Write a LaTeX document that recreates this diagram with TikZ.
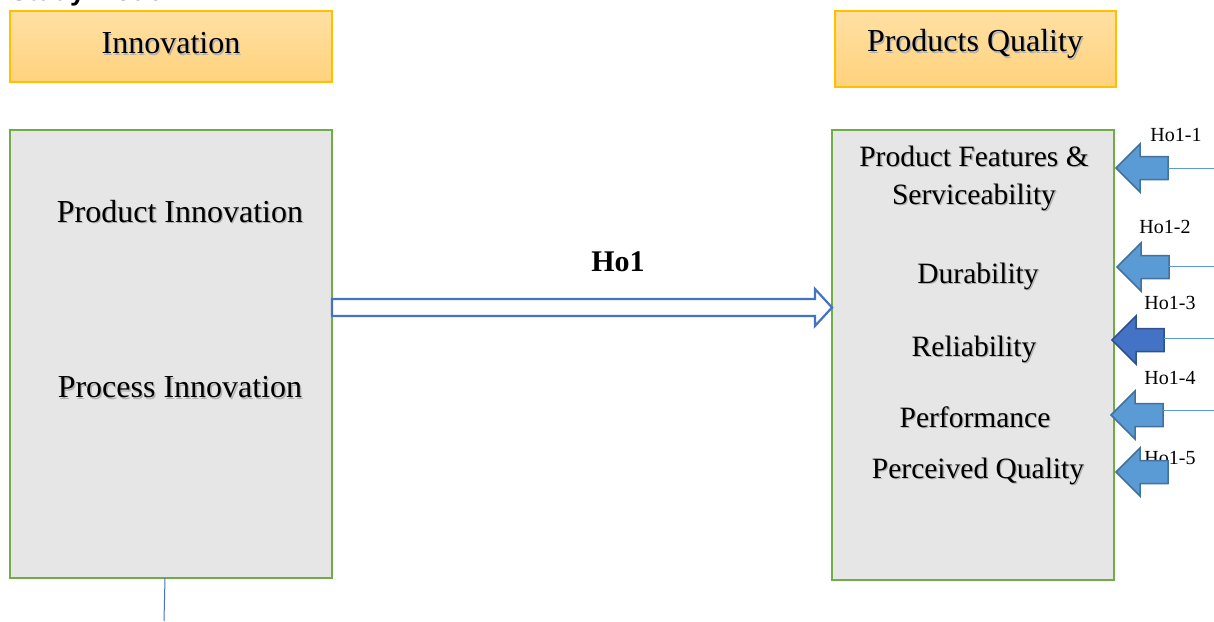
\documentclass[tikz,border=0pt]{standalone}
\usepackage{fontspec}
\setmainfont{Liberation Serif}
\newfontfamily\headsans{Liberation Sans}
\usetikzlibrary{calc}
\definecolor{hdtop}{HTML}{FFE0A3}
\definecolor{hdbot}{HTML}{FFD27D}
\definecolor{hdline}{HTML}{FFC000}
\definecolor{panelfill}{HTML}{E7E6E6}
\definecolor{panelline}{HTML}{70AD47}
\definecolor{linkblue}{HTML}{4472C4}
\definecolor{arrfill}{HTML}{5B9BD5}
\definecolor{arrline}{HTML}{41719C}
\definecolor{arrdark}{HTML}{4472C4}
\definecolor{arrdarkline}{HTML}{2F528F}
% text with a soft drop shadow
\newcommand{\shd}[1]{\leavevmode\rlap{\kern1.3pt\raisebox{-1.3pt}{\textcolor{black!30}{#1}}}#1}
\tikzset{
  headbox/.style={draw=hdline, line width=1.2pt, top color=hdtop, bottom color=hdbot,
    anchor=north west, inner sep=0pt, outer sep=0pt},
  headtext/.style={font=\fontsize{32}{36}\selectfont, inner sep=0pt},
  panel/.style={draw=panelline, line width=2.2pt, fill=panelfill,
    anchor=north west, inner sep=0pt, outer sep=0pt},
  item/.style={font=\fontsize{29.5}{33}\selectfont, inner sep=0pt},
  itemL/.style={font=\fontsize{32}{36}\selectfont, inner sep=0pt},
  hlabel/.style={font=\fontsize{20}{23}\selectfont, inner sep=0pt},
  bigarrow/.style={draw=linkblue, line width=2.2pt, fill=white, line join=miter},
  blockarr/.style={draw=arrline, line width=1.5pt, fill=arrfill, line join=miter},
  blockarrdark/.style={draw=arrdarkline, line width=1.5pt, fill=arrdark, line join=miter},
  tail/.style={draw=arrfill, line width=1pt}
}
% block arrow pointing left: #1 style, #2 tip coordinate, #3 name of shaft end
\newcommand{\leftblock}[3]{%
  \path[#1] (#2) -- ++(24,-24) -- ++(0,12.5) -- ++(28,0) -- ++(0,23) -- ++(-28,0) -- ++(0,12.5) -- cycle;
  \coordinate (#3) at ($(#2)+(52,0)$);}
\begin{document}
\begin{tikzpicture}[x=1pt,y=-1pt]
\useasboundingbox (0,0) rectangle (1214,621);
\begin{scope}
\clip (0,0) rectangle (1214,621);
\node[anchor=base west, inner sep=0pt, font=\headsans\bfseries\fontsize{27}{30}\selectfont] (title) at (10,1) {Study Model};
\end{scope}

% column headings
\node[headbox, minimum width=322, minimum height=71] (hinn) at (10,11) {};
\node[headtext] (thinn) at (171,44) {\shd{Innovation}};
\node[headbox, minimum width=281, minimum height=76] (hqual) at (835,11) {};
\node[headtext] (thqual) at (975,45) {\shd{Products Quality}};

% panels
\node[panel, minimum width=322, minimum height=448] (inn) at (10,130) {};
\node[panel, minimum width=282, minimum height=450] (qual) at (832,130) {};

\node[itemL] (pi) at (180,212) {\shd{Product Innovation}};
\node[itemL] (pr) at (180,388) {\shd{Process Innovation}};

\node[item] (pf1) at (974,157) {\shd{Product Features \&}};
\node[item] (pf2) at (974,198) {\shd{Serviceability}};
\node[item] (du) at (978,277) {\shd{Durability}};
\node[item] (re) at (974,350) {\shd{Reliability}};
\node[item] (pe) at (975,418) {\shd{Performance}};
\node[item] (pq) at (978,472) {\shd{Perceived Quality}};

% main hypothesis arrow
\coordinate (s) at (inn.east |- 0,307.5);
\coordinate (t) at (qual.west |- 0,307.5);
\path[bigarrow] ($(s)+(0,-8.5)$) -- ($(t)+(-17,-8.5)$) -- ($(t)+(-17,-18.5)$) -- (t)
  -- ($(t)+(-17,18.5)$) -- ($(t)+(-17,8.5)$) -- ($(s)+(0,8.5)$) -- cycle;
\node[font=\bfseries\fontsize{30}{34}\selectfont, inner sep=0pt] (ho) at (618,262) {Ho1};

% sub-hypothesis labels
\node[hlabel] (l1) at (1176,135) {Ho1-1};
\node[hlabel] (l2) at (1165,227) {Ho1-2};
\node[hlabel] (l3) at (1170,303) {Ho1-3};
\node[hlabel] (l4) at (1170,378) {Ho1-4};
\node[hlabel] (l5) at (1170,458) {Ho1-5};

% sub-hypothesis arrows
\coordinate (t1) at (1116,168);
\coordinate (t2) at (1117,267);
\coordinate (t3) at (1112,340);
\coordinate (t4) at (1111,415);
\coordinate (t5) at (1116,472);
\coordinate (e1) at (1214,168);
\coordinate (e2) at (1214,266);
\coordinate (e3) at (1214,338);
\coordinate (e4) at (1214,410);
\leftblock{blockarr}{t1}{b1}
\leftblock{blockarr}{t2}{b2}
\leftblock{blockarrdark}{t3}{b3}
\leftblock{blockarr}{t4}{b4}
\leftblock{blockarr}{t5}{b5}
\draw[tail] (b1 |- e1) -- (e1);
\draw[tail] (b2 |- e2) -- (e2);
\draw[tail] (b3 |- e3) -- (e3);
\draw[tail] (b4 |- e4) -- (e4);

% line below the innovation panel
\coordinate (d) at (164,621);
\draw[draw=linkblue, line width=1pt] (inn.south -| 165,0) -- (d);
\end{tikzpicture}
\end{document}
